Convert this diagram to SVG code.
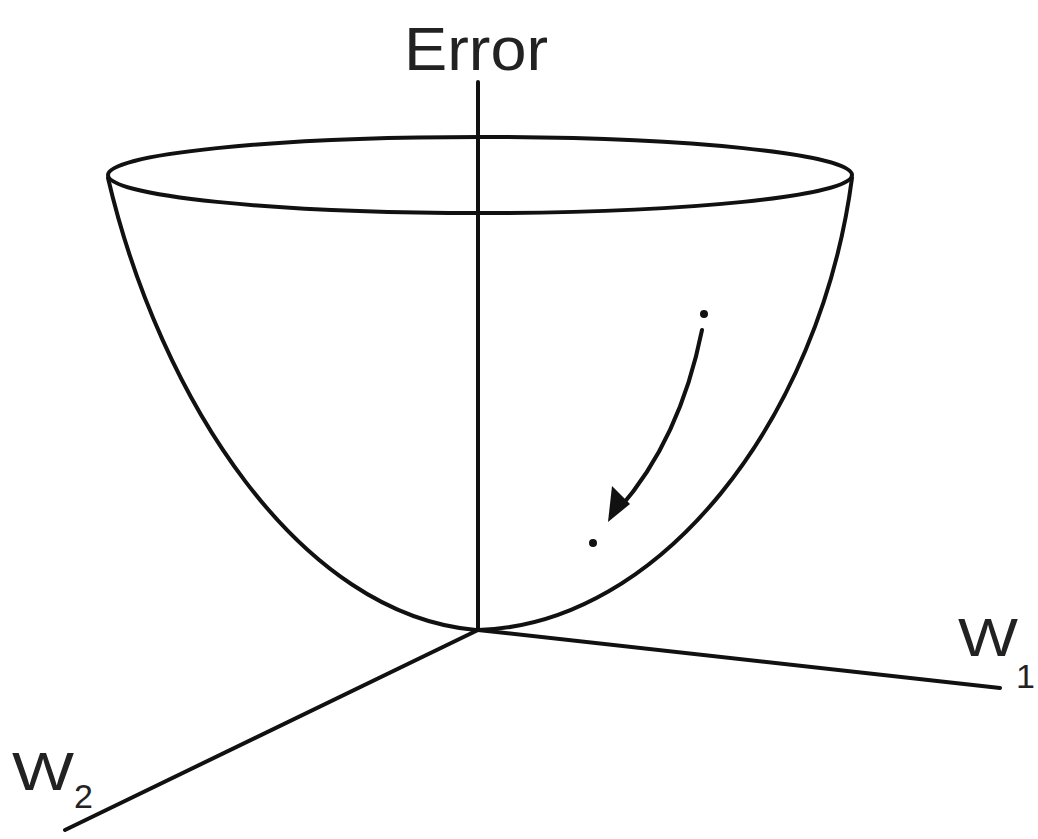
<svg xmlns="http://www.w3.org/2000/svg" width="1038" height="839" viewBox="0 0 1038 839">
<style>
.ln{fill:none;stroke:#111;stroke-width:4;stroke-linecap:round}
.t{font-family:"Liberation Sans",Arial,sans-serif;fill:#222}
</style>
<rect width="1038" height="839" fill="#fff"/>
<g id="axes">
<line class="ln" x1="478" y1="82" x2="478" y2="630"/>
<line class="ln" x1="478" y1="630" x2="1000" y2="688"/>
<line class="ln" x1="478" y1="630" x2="65" y2="830"/>
</g>
<g id="bowl">
<ellipse class="ln" cx="480" cy="175" rx="372" ry="38"/>
<path class="ln" d="M108,178 C160,400 300,615 476,630"/>
<path class="ln" d="M852,178 C820,420 660,625 478,630"/>
</g>
<g id="connectors">
<path class="ln" d="M702,330 Q680,440 618,510"/>
<path d="M608,522 L612,486 L630,504 Z" fill="#111"/>
<circle cx="704" cy="314" r="4" fill="#111"/>
<circle cx="593" cy="543" r="4" fill="#111"/>
</g>
<g id="labels">
<text class="t" x="404" y="70" font-size="62" textLength="144" lengthAdjust="spacingAndGlyphs">Error</text>
<text class="t" x="958" y="656" font-size="54" textLength="60" lengthAdjust="spacingAndGlyphs">W</text>
<text class="t" x="1016" y="688" font-size="34">1</text>
<text class="t" x="12" y="790" font-size="54" textLength="62" lengthAdjust="spacingAndGlyphs">W</text>
<text class="t" x="74" y="808" font-size="34">2</text>
</g>
</svg>
